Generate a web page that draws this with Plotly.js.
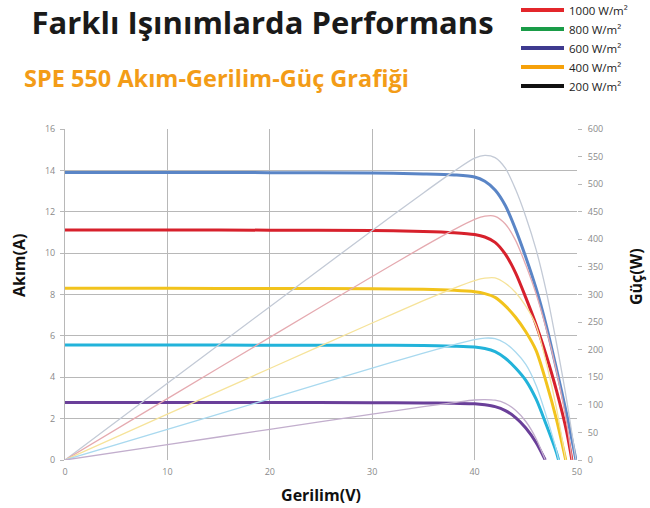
<!DOCTYPE html>
<html><head><meta charset="utf-8">
<script src="https://cdn.plot.ly/plotly-3.0.1.min.js"></script>
<style>html,body{margin:0;padding:0;background:#fff}#chart{width:650px;height:508px}</style>
</head><body><div id="chart"></div>
<script>
// Legend entries
const irradianceLabels = ['1000 W/m²', '800 W/m²', '600 W/m²', '400 W/m²', '200 W/m²'];

// Voltage (V), current (A) and power (W)
const v1000 = [0, 10, 20, 30, 35, 38, 40, 41, 42, 43, 44, 45, 46, 47, 48, 49, 49.9];
const i1000 = [13.9, 13.9, 13.89, 13.87, 13.83, 13.78, 13.68, 13.47, 13.05, 12.3, 11.15, 9.8, 8.3, 6.5, 4.4, 2.2, 0];
const p1000 = [0, 139, 277.8, 416.1, 484.1, 523.6, 547.2, 552.3, 548.1, 528.9, 490.6, 441, 381.8, 305.5, 211.2, 107.8, 0];

const v800 = [0, 10, 20, 30, 35, 38, 40, 41, 42, 43, 44, 45, 46, 47, 48, 49, 49.5];
const i800 = [11.12, 11.12, 11.11, 11.09, 11.05, 10.99, 10.9, 10.78, 10.52, 9.95, 9.05, 7.85, 6.55, 5.05, 3.35, 1.35, 0];
const p800 = [0, 111.2, 222.2, 332.7, 386.8, 417.6, 436, 442, 441.8, 427.9, 398.2, 353.3, 301.3, 237.4, 160.8, 66.2, 0];

const v600 = [0, 10, 20, 30, 35, 38, 40, 41, 42, 43, 44, 45, 46, 47, 48, 48.9];
const i600 = [8.3, 8.3, 8.29, 8.28, 8.25, 8.2, 8.13, 8.04, 7.86, 7.45, 6.9, 6.2, 5.3, 3.75, 1.95, 0];
const p600 = [0, 83, 165.8, 248.4, 288.8, 311.6, 325.2, 329.6, 330.1, 320.4, 303.6, 279, 243.8, 176.3, 93.6, 0];

const v400 = [0, 10, 20, 30, 35, 38, 40, 41, 42, 43, 44, 45, 46, 47, 48, 48.2];
const i400 = [5.56, 5.56, 5.55, 5.55, 5.53, 5.5, 5.46, 5.39, 5.24, 4.92, 4.45, 3.85, 2.95, 1.7, 0.35, 0];
const p400 = [0, 55.6, 111, 166.5, 193.6, 209, 218.4, 221, 220.1, 211.6, 195.8, 173.3, 135.7, 79.9, 16.8, 0];

const v200 = [0, 10, 20, 30, 35, 38, 40, 41, 42, 43, 44, 45, 46, 46.9];
const i200 = [2.78, 2.78, 2.78, 2.77, 2.76, 2.74, 2.72, 2.67, 2.58, 2.39, 2.05, 1.55, 0.85, 0];
const p200 = [0, 27.8, 55.6, 83.1, 96.6, 104.1, 108.8, 109.5, 108.4, 102.8, 90.2, 69.8, 39.1, 0];

// Styles
const legendColors = ['#e3262b', '#1a9c48', '#3e3a8f', '#f6a10a', '#111111'];
const currentColors = ['#5a85c6', '#d7212c', '#f2c31c', '#22b3da', '#6a3f99'];
const powerColors = ['#c3cad6', '#e5aab0', '#f6e39a', '#a9d9ef', '#c2aecd'];

const V = [v1000, v800, v600, v400, v200];
const I = [i1000, i800, i600, i400, i200];
const P = [p1000, p800, p600, p400, p200];

const traces = [];
for (let k = 0; k < 5; k++) {
  traces.push({x: V[k], y: P[k], yaxis: 'y2', type: 'scatter', mode: 'lines',
    line: {color: powerColors[k], width: 1.3, shape: 'spline', smoothing: 0.8},
    showlegend: false, hoverinfo: 'x+y', name: irradianceLabels[k] + ' Güç'});
}
for (let k = 0; k < 5; k++) {
  traces.push({x: V[k], y: I[k], type: 'scatter', mode: 'lines',
    line: {color: currentColors[k], width: 3, shape: 'spline', smoothing: 0.8},
    showlegend: false, hoverinfo: 'x+y', name: irradianceLabels[k] + ' Akım'});
}
for (let k = 0; k < 5; k++) {
  traces.push({x: [null], y: [null], type: 'scatter', mode: 'lines',
    line: {color: legendColors[k], width: 4}, name: irradianceLabels[k], showlegend: true});
}

const tickFont = {family: 'Open Sans, sans-serif', size: 9, color: '#8a8a8a'};
const titleFont = {family: 'Open Sans, sans-serif', size: 16, color: '#111', weight: 700};

const layout = {
  width: 650, height: 508,
  margin: {l: 65, r: 73, t: 129, b: 48, pad: 0, autoexpand: false},
  paper_bgcolor: '#fff', plot_bgcolor: '#fff',
  font: {family: 'Open Sans, sans-serif'},
  title: {text: 'Farklı Işınımlarda Performans', xref: 'container', yref: 'container',
    x: 262.5 / 650, xanchor: 'center', y: 1 - 23 / 508, yanchor: 'middle',
    font: {family: 'Open Sans, sans-serif', size: 31, color: '#1a1a1a', weight: 700}},
  annotations: [
    {text: 'SPE 550 Akım-Gerilim-Güç Grafiği', xref: 'paper', yref: 'paper',
      x: (22 - 65) / 512, y: (460 - 78) / 331, xanchor: 'left', yanchor: 'middle', showarrow: false,
      font: {family: 'Open Sans, sans-serif', size: 23.5, color: '#f39c17', weight: 700}},
    {text: 'Akım(A)', xref: 'paper', yref: 'paper', textangle: -90,
      x: (19 - 65) / 512, y: (460 - 266) / 331, xanchor: 'center', yanchor: 'middle', showarrow: false,
      font: titleFont},
    {text: 'Güç(W)', xref: 'paper', yref: 'paper', textangle: -90,
      x: (636 - 65) / 512, y: (460 - 277) / 331, xanchor: 'center', yanchor: 'middle', showarrow: false,
      font: titleFont}
  ],
  xaxis: {range: [0, 50], tickvals: [0, 10, 20, 30, 40, 50], showgrid: true, gridcolor: '#b8b8b8',
    gridwidth: 1, zeroline: false, showline: false, ticks: '', tickfont: tickFont, automargin: false,
    ticklabelstandoff: 5,
    title: {text: 'Gerilim(V)', font: titleFont, standoff: 12}, fixedrange: true},
  yaxis: {range: [0, 16], tickvals: [0, 2, 4, 6, 8, 10, 12, 14, 16], showgrid: true, gridcolor: '#b8b8b8',
    gridwidth: 1, zeroline: false, showline: true, linecolor: '#b8b8b8', linewidth: 1, automargin: false,
    ticks: 'outside', ticklen: 4, tickcolor: '#b8b8b8', tickfont: tickFont, ticklabelstandoff: 3,
    fixedrange: true},
  yaxis2: {range: [0, 600], tickvals: [0, 50, 100, 150, 200, 250, 300, 350, 400, 450, 500, 550, 600],
    overlaying: 'y', side: 'right', showgrid: false, zeroline: false, showline: false, automargin: false,
    ticks: 'outside', ticklen: 4, tickcolor: '#b8b8b8', tickfont: tickFont, ticklabelstandoff: 4,
    fixedrange: true},
  showlegend: true,
  legend: {xref: 'paper', yref: 'paper', x: (516 - 65) / 512, y: (460 + 4.5) / 331, xanchor: 'left', yanchor: 'top',
    font: {family: 'Open Sans, sans-serif', size: 11.5, color: '#222'}, itemwidth: 43,
    bgcolor: 'rgba(0,0,0,0)', borderwidth: 0, tracegroupgap: 0}
};

Plotly.newPlot('chart', traces, layout, {displayModeBar: false});
</script></body></html>
